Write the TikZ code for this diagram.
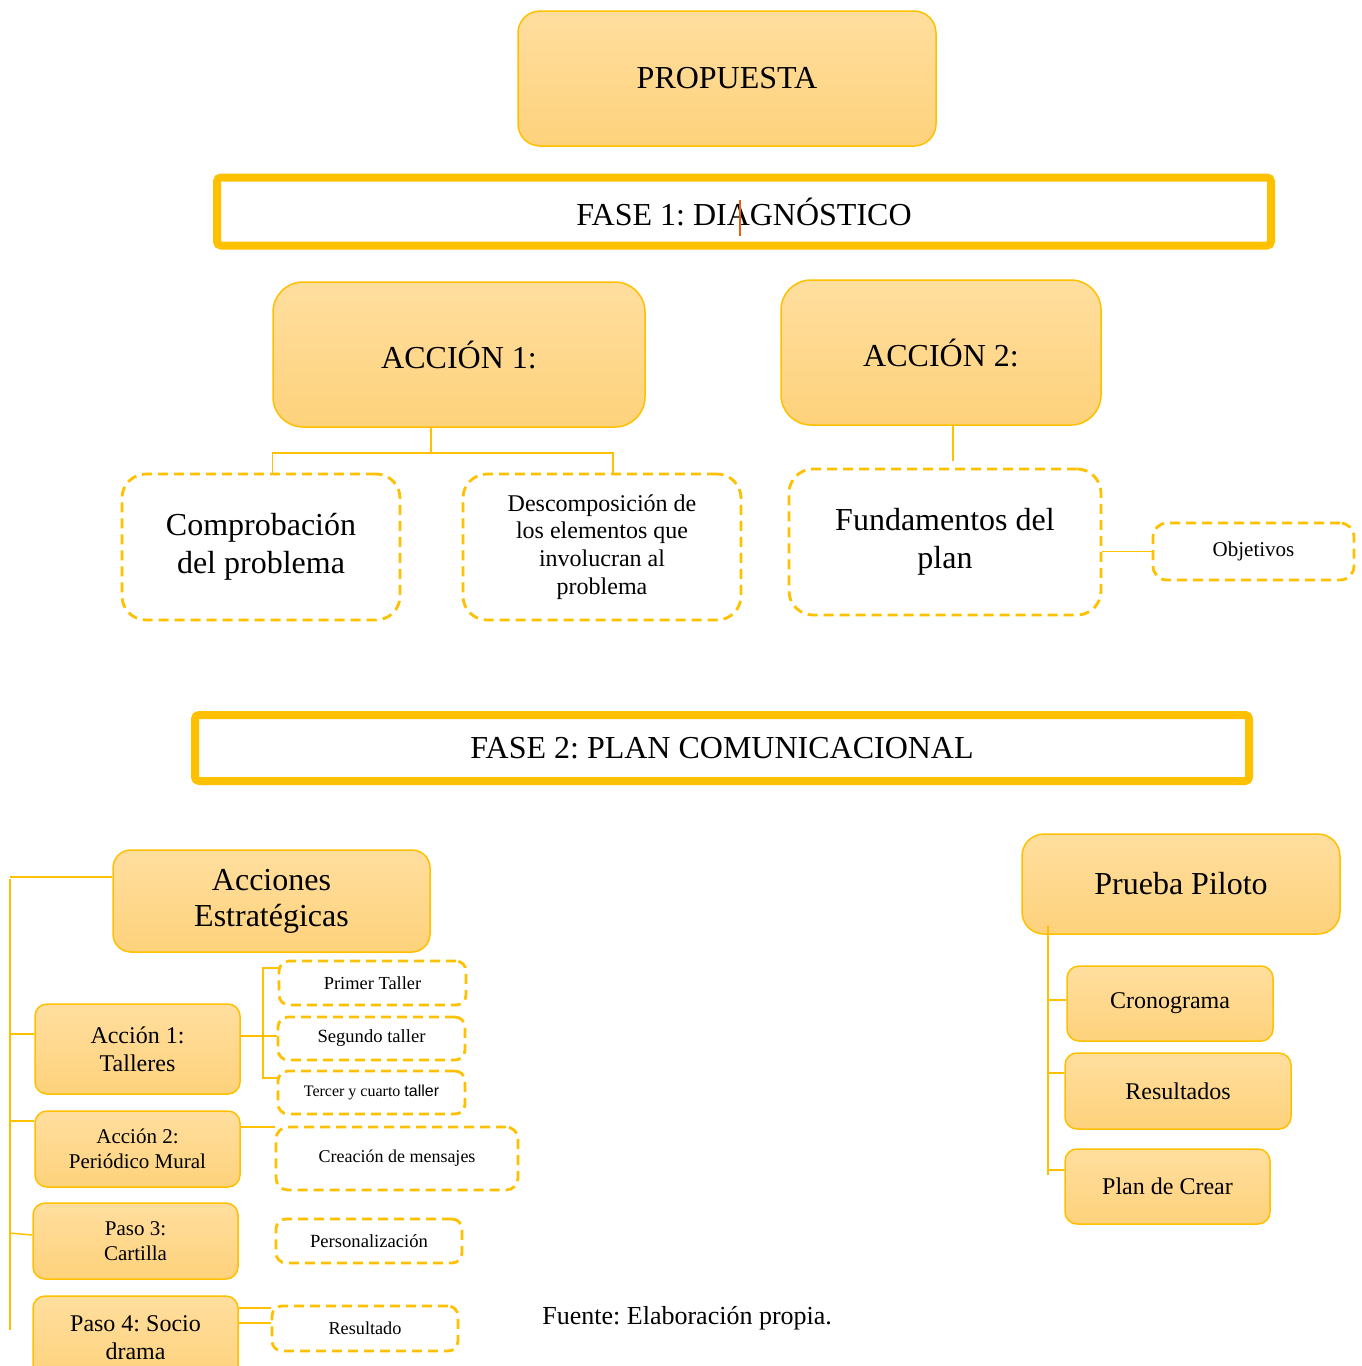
\documentclass[tikz,border=0pt]{standalone}
\usepackage{fontspec}
\setmainfont{Liberation Serif}
\newfontfamily\sansfont{Liberation Sans}
\usetikzlibrary{calc}
\frenchspacing
\definecolor{oro}{HTML}{FFC000}
\definecolor{clarotop}{HTML}{FFDE9E}
\definecolor{clarobot}{HTML}{FED27C}
\definecolor{cursor}{HTML}{E4600A}
\tikzset{
	solidbox/.style={draw=oro, line width=0.75pt, rounded corners=#1, top color=clarotop, bottom color=clarobot, inner sep=0pt, align=center},
	solidbox/.default=6pt,
	dashbox/.style={draw=oro, line width=1.4pt, dash pattern=on 5pt off 3pt, rounded corners=#1, fill=white, inner sep=0pt, align=center},
	dashbox/.default=5pt,
	phasebox/.style={draw=oro, line width=4pt, rounded corners=2pt, inner sep=0pt},
	link/.style={draw=oro, line width=0.75pt}
}

\begin{document}
\begin{tikzpicture}[x=0.5pt,y=-0.5pt]
		%%%%% START %%%%%
		\useasboundingbox (0,0) rectangle (1361,1366);
		
		\node[solidbox=11pt, minimum width=209pt, minimum height=67.5pt, font=\fontsize{16}{19}\selectfont] (prop) at (727,78.5) {PROPUESTA};
		
		% fase 1
		\node[phasebox, minimum width=527pt, minimum height=34pt, font=\fontsize{16}{19}\selectfont] (fase1) at (744,211.5) {FASE 1: DIAGNÓSTICO};
		\draw[cursor, line width=0.6pt] (740,200) -- (740,236);
		
		\node[solidbox=15pt, minimum width=186pt, minimum height=72.5pt, font=\fontsize{16}{19}\selectfont] (acc1) at (459,354.5) {ACCIÓN 1:};
		\node[solidbox=15pt, minimum width=160pt, minimum height=72.5pt, font=\fontsize{16}{19}\selectfont] (acc2) at (941,352.5) {ACCIÓN 2:};
		
		\node[dashbox=12pt, minimum width=139pt, minimum height=73pt, font=\fontsize{16}{19}\selectfont] (comp) at (261,547) {Comprobación\\del problema};
		\node[dashbox=12pt, minimum width=139pt, minimum height=73pt, font=\fontsize{12}{13.8}\selectfont] (desc) at (602,547) {Descomposición de\\los elementos que\\involucran al\\problema};
		\node[dashbox=12pt, minimum width=156pt, minimum height=73pt, font=\fontsize{16}{19}\selectfont] (fund) at (945,542) {Fundamentos del\\plan};
		\node[dashbox=7pt, minimum width=100.5pt, minimum height=28.5pt, font=\fontsize{10.5}{12}\selectfont] (obj) at (1253.5,551.5) {Objetivos};
		
		\coordinate (j1) at (431,453);
		\coordinate (j1r) at (613,453);
		\coordinate (j2) at (953,461);
		\draw[link] (acc1.south -| j1) -- (j1);
		\draw[link] (comp.north -| acc1.west) |- (j1r) -- (j1r |- desc.north);
		\draw[link] (acc2.south -| j2) -- (j2);
		\draw[link] (fund.east |- obj.west) -- (obj.west);
		
		% fase 2
		\node[phasebox, minimum width=527pt, minimum height=33pt, font=\fontsize{16}{19}\selectfont] (fase2) at (722,748) {FASE 2: PLAN COMUNICACIONAL};
		
		\node[solidbox=9pt, minimum width=158.5pt, minimum height=51pt, font=\fontsize{16}{18}\selectfont] (accest) at (271.5,901) {Acciones\\Estratégicas};
		\node[solidbox, minimum width=102.5pt, minimum height=45pt, font=\fontsize{12}{14}\selectfont] (a1tal) at (137.5,1049) {Acción 1:\\Talleres};
		\node[solidbox, minimum width=102.5pt, minimum height=38pt, font=\fontsize{10.5}{12.5}\selectfont] (a2per) at (137.5,1149) {Acción 2:\\Periódico Mural};
		\node[solidbox, minimum width=102.5pt, minimum height=38pt, font=\fontsize{10.5}{12.5}\selectfont] (paso3) at (135.5,1241) {Paso 3:\\Cartilla};
		\node[solidbox, minimum width=102.5pt, minimum height=42pt, font=\fontsize{12}{14}\selectfont] (paso4) at (135.5,1338) {Paso 4: Socio\\drama};
		
		\node[dashbox, minimum width=93.5pt, minimum height=22pt, font=\fontsize{9.2}{11}\selectfont] (primer) at (372.5,983) {Primer Taller};
		\node[dashbox, minimum width=93.5pt, minimum height=21.5pt, font=\fontsize{9.3}{11}\selectfont] (segundo) at (371.5,1038.5) {Segundo taller};
		\node[dashbox, minimum width=93.5pt, minimum height=21.5pt, font=\fontsize{8}{10}\selectfont] (tercer) at (371.5,1092.5) {Tercer y cuarto {\sansfont taller}};
		\node[dashbox=6pt, minimum width=121pt, minimum height=31.5pt, font=\fontsize{9}{11}\selectfont] (creac) at (397,1158.5) {Creación de mensajes};
		\node[dashbox, minimum width=93pt, minimum height=22pt, font=\fontsize{9.3}{11}\selectfont] (perso) at (369,1241) {Personalización};
		\node[dashbox, minimum width=93pt, minimum height=22.5pt, font=\fontsize{9.1}{11}\selectfont] (resul) at (365,1328.5) {Resultado};
		
		\coordinate (s0) at (10,877);
		\coordinate (s1) at (10,1330);
		\draw[link] (accest.west |- s0) -- (s0);
		\draw[link] ([yshift=-1pt]s0) -- (s1);
		\draw[link] ([yshift=7.5pt]a1tal.west) -- ++(-25,0);
		\draw[link] ([yshift=14pt]a2per.west) -- ++(-25,0);
		\draw[link] ([yshift=3pt]paso3.west) -- ++(-23,-2);
		
		\coordinate (t0) at (263,968);
		\coordinate (t1) at (263,1078);
		\coordinate (a1out) at ([yshift=6.5pt]a1tal.east);
		\coordinate (a2out) at ([yshift=11pt]a2per.east);
		\draw[link] (primer.west |- t0) -- (t0) -- (t1) -- (tercer.west |- t1);
		\draw[link] (a1out) -- (a1out -| segundo.west);
		\draw[link] (a2out) -- (a2out -| creac.west);
		\draw[link] ([yshift=15pt]paso4.east) -- ([yshift=15pt]paso4.east -| resul.west);
		\draw[link] ([yshift=7.5pt]paso4.east) -- ([yshift=7.5pt]paso4.east -| resul.west);
		
		\node[anchor=west, inner sep=0pt, font=\fontsize{13}{15}\selectfont] (fuente) at (542,1318) {Fuente: Elaboración propia.};
		
		% prueba piloto
		\node[solidbox=11pt, minimum width=159pt, minimum height=50pt, font=\fontsize{16}{19}\selectfont] (prueba) at (1181,884) {Prueba Piloto};
		\node[solidbox, minimum width=103pt, minimum height=37.5pt, font=\fontsize{12}{14}\selectfont] (crono) at (1170,1003.5) {Cronograma};
		\node[solidbox, minimum width=113pt, minimum height=38pt, font=\fontsize{12}{14}\selectfont] (resultados) at (1178,1091) {Resultados};
		\node[solidbox, minimum width=102.5pt, minimum height=37.5pt, font=\fontsize{12}{14}\selectfont] (plan) at (1167.5,1186.5) {Plan de Crear};
		
		\coordinate (p0) at (1048,926);
		\coordinate (p1) at (1048,1175);
		\draw[link] (p0) -- (p1);
		\draw[link] ([yshift=1.75pt]crono.west) -- ++(-17,0);
		\draw[link] ([yshift=9pt]resultados.west) -- ++(-17,0);
		\draw[link] ([yshift=8.25pt]plan.west) -- ++(-17,0);
		
		%%%%% END %%%%%
\end{tikzpicture}
\end{document}
